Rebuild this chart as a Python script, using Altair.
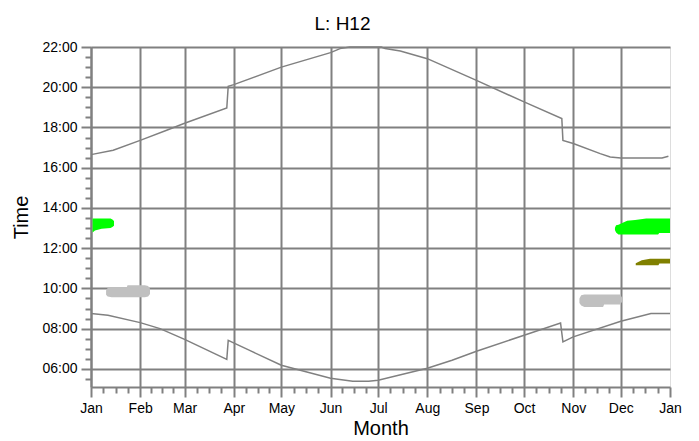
import altair as alt
import pandas as pd

FONT = "Liberation Sans"
GRAY = "#808080"

# ---- axis tick definitions ----
month_labels = ["Jan", "Feb", "Mar", "Apr", "May", "Jun", "Jul", "Aug", "Sep", "Oct", "Nov", "Dec", "Jan"]
month_starts = [0, 31, 59, 90, 120, 151, 181, 212, 243, 273, 304, 334, 365]
hour_values = [6, 8, 10, 12, 14, 16, 18, 20, 22]
hour_labels = ["06:00", "08:00", "10:00", "12:00", "14:00", "16:00", "18:00", "20:00", "22:00"]

# ---- sunset line (day of year, hours) ----
sunset_day = [0, 14, 31, 47.7, 59, 85.6, 86.5, 90, 120, 151, 157, 163, 183, 185.4, 195, 212, 243, 273,
              296.8, 297.5, 304, 321, 327.3, 334, 360, 364]
sunset_time = [16.65, 16.87, 17.36, 17.86, 18.21, 18.97, 20.05, 20.13, 21.0, 21.72, 21.92, 22.0, 22.0,
               21.92, 21.8, 21.42, 20.34, 19.27, 18.44, 17.36, 17.2, 16.70, 16.53, 16.48, 16.48, 16.57]

# ---- sunrise line ----
sunrise_day = [0, 10.7, 31, 43.5, 59, 85.6, 86.5, 101, 120, 151, 165, 175, 181, 212, 227.6, 243, 273,
               296, 297.5, 304, 334, 353, 365]
sunrise_time = [8.75, 8.67, 8.30, 8.0, 7.47, 6.47, 7.42, 6.88, 6.18, 5.54, 5.39, 5.39, 5.44, 6.03,
                6.43, 6.88, 7.67, 8.28, 7.34, 7.59, 8.37, 8.75, 8.75]

# ---- shaded periods ----
jan_green_day = [1.0, 2.5, 6.7, 12.3, 13.5, 14.5]
jan_green_top = [13.47, 13.47, 13.47, 13.47, 13.42, 13.35]
jan_green_bottom = [12.78, 12.88, 12.97, 13.0, 13.05, 13.12]

jan_gray_day = [9.5, 10.5, 13, 22.5, 23, 34, 36, 37.2]
jan_gray_top = [9.9, 10.02, 10.03, 10.03, 10.16, 10.16, 10.12, 9.98]
jan_gray_bottom = [9.68, 9.6, 9.56, 9.56, 9.56, 9.56, 9.6, 9.72]

nov_gray_day = [307.9, 309, 311, 322.8, 323.5, 333.5, 335.2]
nov_gray_top = [9.5, 9.66, 9.70, 9.70, 9.70, 9.70, 9.5]
nov_gray_bottom = [9.28, 9.15, 9.08, 9.08, 9.20, 9.20, 9.38]

dec_green_day = [330.3, 331, 332.5, 338, 343, 350, 357.5, 358.2, 365]
dec_green_top = [13.02, 13.14, 13.16, 13.36, 13.40, 13.47, 13.47, 13.47, 13.47]
dec_green_bottom = [12.9, 12.78, 12.68, 12.68, 12.68, 12.68, 12.68, 12.76, 12.76]

dec_olive_day = [343.4, 347.2, 352.4, 357.7, 358.3, 365]
dec_olive_top = [11.25, 11.40, 11.48, 11.48, 11.48, 11.48]
dec_olive_bottom = [11.15, 11.15, 11.15, 11.15, 11.24, 11.24]

blob_colors = {"jan_green": "#00ff00", "jan_gray": "#c0c0c0", "nov_gray": "#c0c0c0",
               "dec_green": "#00ff00", "dec_olive": "#808000"}

# ---- build tables ----
lines = pd.concat([
    pd.DataFrame({"day": sunset_day, "time": sunset_time, "series": "sunset"}),
    pd.DataFrame({"day": sunrise_day, "time": sunrise_time, "series": "sunrise"}),
])

blob_src = {
    "jan_green": (jan_green_day, jan_green_top, jan_green_bottom),
    "jan_gray": (jan_gray_day, jan_gray_top, jan_gray_bottom),
    "nov_gray": (nov_gray_day, nov_gray_top, nov_gray_bottom),
    "dec_green": (dec_green_day, dec_green_top, dec_green_bottom),
    "dec_olive": (dec_olive_day, dec_olive_top, dec_olive_bottom),
}

# ---- tick values (major + quarter-month / half-hour minor) ----
x_ticks = []
for i in range(12):
    s, e = month_starts[i], month_starts[i + 1]
    for k in range(4):
        x_ticks.append(round(s + (e - s) * k / 4, 3))
x_ticks.append(365)
y_ticks = [5.5 + 0.5 * i for i in range(34)]

ms = "[" + ",".join(str(v) for v in month_starts) + "]"
ml = "[" + ",".join("'" + v + "'" for v in month_labels) + "]"
hv = "[" + ",".join(str(v) for v in hour_values) + "]"
hl = "[" + ",".join("'" + v + "'" for v in hour_labels) + "]"

x_major = f"indexof({ms}, datum.value) >= 0"
y_major = f"indexof({hv}, datum.value) >= 0"

x_axis = alt.Axis(
    values=x_ticks,
    tickCount=500,
    labelExpr=f"{x_major} ? {ml}[indexof({ms}, datum.value)] : ''",
    title="Month",
    grid=True,
    gridColor=GRAY,
    gridWidth=2,
    gridOpacity={"condition": {"test": f"{x_major} && datum.value < 365", "value": 1}, "value": 0},
    tickColor=GRAY,
    tickWidth=2,
    tickSize={"condition": {"test": x_major, "value": 10}, "value": 6},
    domainColor=GRAY,
    domainWidth=2,
    labelPadding=4,
    labelFlush=False,
    labelOverlap=False,
    labelFontSize=14,
    labelColor="black",
    titleFontSize=20,
    titleFontWeight="normal",
    titleColor="black",
    titlePadding=3,
)

y_axis = alt.Axis(
    values=y_ticks,
    tickCount=500,
    labelExpr=f"{y_major} ? {hl}[indexof({hv}, datum.value)] : ''",
    title="Time",
    grid=True,
    gridColor=GRAY,
    gridWidth=2,
    gridOpacity={"condition": {"test": y_major, "value": 1}, "value": 0},
    tickColor=GRAY,
    tickWidth=2,
    tickSize={"condition": {"test": y_major, "value": 10}, "value": 6},
    domainColor=GRAY,
    domainWidth=2,
    labelPadding=4,
    labelFlush=False,
    labelOverlap=False,
    labelFontSize=14,
    labelColor="black",
    titleFontSize=20,
    titleFontWeight="normal",
    titleColor="black",
    titlePadding=10,
)

x_scale = alt.Scale(domain=[0, 365], nice=False, zero=False)
y_scale = alt.Scale(domain=[5.1, 22], nice=False, zero=False)

line_layer = alt.Chart(lines).mark_line(color=GRAY, strokeWidth=1.5).encode(
    x=alt.X("day:Q", scale=x_scale, axis=x_axis),
    y=alt.Y("time:Q", scale=y_scale, axis=y_axis),
    detail="series:N",
)

layers = [line_layer]
for name, (d, t, b) in blob_src.items():
    df = pd.DataFrame({"day": d, "top": t, "bottom": b})
    layers.append(
        alt.Chart(df).mark_area(color=blob_colors[name], opacity=1).encode(
            x=alt.X("day:Q", scale=x_scale),
            y=alt.Y("top:Q", scale=y_scale),
            y2="bottom:Q",
        )
    )

chart = alt.layer(*layers).properties(
    width=579,
    height=340,
    title=alt.Title("L: H12", fontSize=19, font=FONT, fontWeight="normal", color="black",
                    anchor="middle", dx=-38, offset=6),
    autosize=alt.AutoSizeParams(type="none"),
    padding={"left": 83, "top": 39, "right": 16, "bottom": 56},
).configure_view(stroke=None).configure_axis(
    labelFont=FONT, titleFont=FONT
).configure(background="white")

chart.save("out.html", embed_options={"renderer": "svg", "actions": False})
